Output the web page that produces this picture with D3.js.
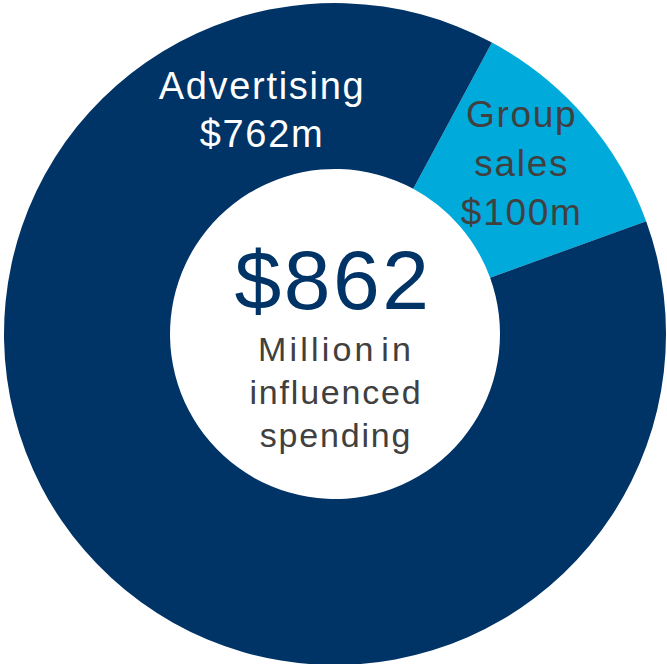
<!DOCTYPE html>
<html>
<head>
<meta charset="utf-8">
<script src="https://cdn.jsdelivr.net/npm/d3@7"></script>
<style>
  html, body { margin: 0; padding: 0; background: #fff; }
  svg text { font-family: "Liberation Sans", Arial, sans-serif; }
</style>
</head>
<body>
<div id="chart"></div>
<script>
// ===== DONUT: INFLUENCED SPENDING =====

const categories = ['Group sales', 'Advertising'];
const values = [100, 762];
const valueLabels = ['$100m', '$762m'];
const totalLabel = '$862';
const centerLines = ['Million in', 'influenced', 'spending'];

const width = 667;
const height = 664;
const cx = 335;
const cy = 334;
const outerR = 331;
const innerR = 165;

const colors = { 'Group sales': '#00AADB', 'Advertising': '#003366' };
const labelColor = { 'Group sales': '#404040', 'Advertising': '#ffffff' };

const svg = d3.select('#chart')
  .append('svg')
  .attr('width', width)
  .attr('height', height);

const g = svg.append('g')
  .attr('transform', `translate(${cx}, ${cy})`);

// group sales starts about 28 degrees past twelve o'clock
const start = 28.3 * Math.PI / 180;
const pie = d3.pie()
  .sort(null)
  .value(d => d.value)
  .startAngle(start)
  .endAngle(start + 2 * Math.PI);

const data = categories.map((c, i) => ({ name: c, value: values[i], label: valueLabels[i] }));
const arcs = pie(data);

const arc = d3.arc()
  .innerRadius(innerR)
  .outerRadius(outerR);

g.selectAll('path.slice')
  .data(arcs)
  .join('path')
  .attr('class', 'slice')
  .attr('d', arc)
  .attr('fill', d => colors[d.data.name]);

// slice labels
const labelPos = {
  'Group sales': () => { const c = arc.centroid(arcs[0]); return [c[0] - 1, c[1] - 45]; },
  'Advertising': () => [-73, -235]
};

arcs.forEach(a => {
  const name = a.data.name;
  const [lx, ly] = labelPos[name]();
  const lines = name === 'Group sales'
    ? ['Group', 'sales', a.data.label]
    : ['Advertising', a.data.label];
  const t = g.append('text')
    .attr('text-anchor', 'middle')
    .attr('fill', labelColor[name])
    .style('font-size', name === 'Group sales' ? '37px' : '38px')
    .style('letter-spacing', '1.7px');
  lines.forEach((ln, i) => {
    t.append('tspan')
      .attr('x', lx)
      .attr('y', ly + i * (name === 'Group sales' ? 49 : 48))
      .text(ln);
  });
});

// centre text
g.append('text')
  .attr('x', -2)
  .attr('y', -25)
  .attr('text-anchor', 'middle')
  .attr('fill', '#003366')
  .style('font-size', '84px')
  .style('letter-spacing', '2.5px')
  .text(totalLabel);

const sub = g.append('text')
  .attr('text-anchor', 'middle')
  .attr('fill', '#404040')
  .style('font-size', '34px')
  .style('letter-spacing', '1.8px');

centerLines.forEach((ln, i) => {
  sub.append('tspan')
    .attr('x', 1)
    .attr('y', 27 + i * 43)
    .style('letter-spacing', i === 0 ? '3.2px' : null)
    .style('word-spacing', i === 0 ? '-8px' : null)
    .text(ln);
});
</script>
</body>
</html>
